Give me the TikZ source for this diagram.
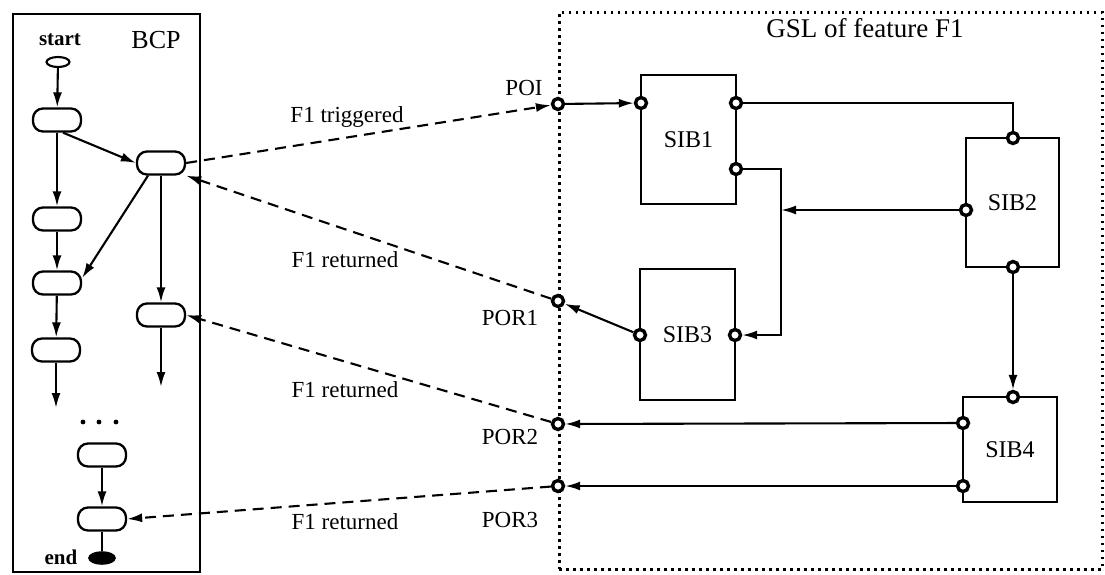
\documentclass[tikz,border=0pt]{standalone}
\usepackage{fontspec}
\setmainfont{Liberation Serif}
\usetikzlibrary{arrows.meta,shapes.geometric}
\begin{document}
\begin{tikzpicture}[x=1pt,y=-1pt,
  every node/.style={font=\fontsize{23}{26}\selectfont},
  ln/.style={line width=2.1},
  arr/.style={ln,-{Latex[length=15,width=9]}},
  darr/.style={arr,dash pattern=on 11 off 7},
  state/.style={draw,line width=2.3,rounded corners=10,minimum width=48,minimum height=23,inner sep=0},
  port/.style={circle,draw,line width=3.4,fill=white,inner sep=0,minimum size=11},
  sib/.style={draw,line width=2.1,inner sep=0,font=\fontsize{24}{26}\selectfont},
  lbl/.style={font=\fontsize{23}{26}\selectfont},
  small/.style={font=\fontsize{21}{24}\selectfont\bfseries}]
\useasboundingbox (0,0) rectangle (1105,574);

% BCP frame
\node[draw,line width=2.1,minimum width=187,minimum height=558,anchor=north west,inner sep=0] (bcp) at (12,13) {};
\node[font=\fontsize{26}{28}\selectfont] (bcpl) at (156,40) {BCP};
\node[small] (startl) at (60,40) {start};
\node[small] (endl) at (61,557) {end};

\node[ellipse,draw,line width=2.1,minimum width=23,minimum height=10,inner sep=0] (start) at (58,62) {};
\node[ellipse,draw,fill,line width=1.6,minimum width=26,minimum height=12,inner sep=0] (end) at (102,558) {};

\node[state] (a1) at (57,120) {};
\node[state] (b1) at (161,163) {};
\node[state] (a2) at (57,219) {};
\node[state] (a3) at (57,283) {};
\node[state] (a4) at (56,350) {};
\node[state] (b2) at (161,315) {};
\node[state] (a5) at (102,455) {};
\node[state] (a6) at (102,519) {};
\coordinate (a4e) at (56,408);
\coordinate (b2e) at (161,387);

\draw[arr] (start) -- (a1);
\draw[arr] (a1) -- (a2);
\draw[arr] (a2) -- (a3);
\draw[arr] (a3) -- (a4);
\draw[arr] (a4) -- (a4e);
\draw[arr] ([xshift=6]a1.south) -- (b1.west);
\draw[arr] ([xshift=-13]b1.south) -- ([yshift=5]a3.east);
\draw[arr] (b1) -- (b2);
\draw[arr] (b2) -- (b2e);
\draw[arr] (a5) -- (a6);
\draw[ln] (a6) -- (end);
\fill (83,422) circle (2.4) (99,422) circle (2.4) (116,422) circle (2.4);

% GSL frame
\node[draw,dash pattern=on 2.5 off 4.5,line width=2.6,minimum width=543,minimum height=557,anchor=north west,inner sep=0] (gsl) at (558,11) {};
\node[font=\fontsize{27}{30}\selectfont] (gsll) at (865,28) {GSL of feature F1};

\node[sib,minimum width=95,minimum height=129] (sib1) at (688.5,139.5) {SIB1};
\node[sib,minimum width=93,minimum height=129] (sib2) at (1012.5,202.5) {SIB2};
\node[sib,minimum width=95,minimum height=131] (sib3) at (687.5,334.5) {SIB3};
\node[sib,minimum width=94,minimum height=105] (sib4) at (1010,449.5) {SIB4};

% ports
\node[port] (poi) at (558,104) {};
\node[port] (por1) at (558,301) {};
\node[port] (por2) at (558,424) {};
\node[port] (por3) at (558,486) {};
\node[port] (s1in) at (641,103) {};
\node[port] (s1o1) at (736,103) {};
\node[port] (s1o2) at (736,169) {};
\node[port] (s2top) at (1013,138) {};
\node[port] (s2l) at (966,210) {};
\node[port] (s2bot) at (1013,267) {};
\node[port] (s3l) at (640,335) {};
\node[port] (s3r) at (735,335) {};
\node[port] (s4top) at (1013,397) {};
\node[port] (s4l1) at (963,423) {};
\node[port] (s4l2) at (963,486) {};

\node[lbl] (poil) at (524,88) {POI};
\node[lbl] (por1l) at (510,318) {POR1};
\node[lbl] (por2l) at (510,437) {POR2};
\node[lbl] (por3l) at (510,520) {POR3};

\coordinate (j) at (781,169);
\draw[arr] (poi) -- (s1in);
\draw[ln] (s1o1) -| (s2top);
\draw[arr] (s1o2) -- (j) |- (s3r);
\draw[arr] (s2l) -- (s2l -| j);
\draw[arr] (s2bot) -- (s4top);
\draw[arr] (s3l) -- (por1);
\draw[arr] (s4l1) -- (por2);
\draw[arr] (s4l2) -- (por3);

% dashed interactions
\draw[darr] (b1.east) -- (poi);
\draw[darr] (por1) -- (b1.south east);
\draw[darr] (por2) -- (b2.east);
\draw[darr] (por3) -- (a6.east);
\node[lbl] (t1) at (347,117) {F1 triggered};
\node[lbl] (r1) at (345,260) {F1 returned};
\node[lbl] (r2) at (345,390) {F1 returned};
\node[lbl] (r3) at (345,522) {F1 returned};
\end{tikzpicture}
\end{document}
